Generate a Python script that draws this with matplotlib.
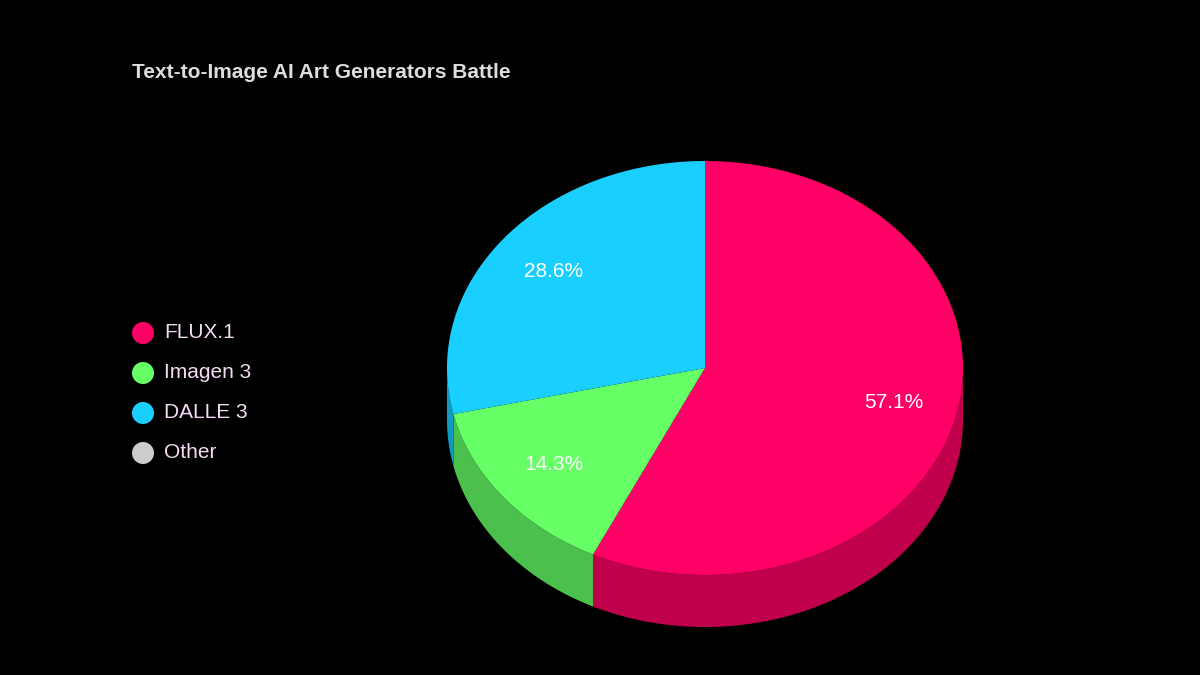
import numpy as np
import matplotlib.pyplot as plt
from matplotlib.patches import Polygon, Circle

labels = ['FLUX.1', 'Imagen 3', 'DALLE 3', 'Other']
values = [4, 1, 2, 0]
top_colors = ['#ff0066', '#66ff66', '#18cfff', '#cccccc']
side_colors = ['#c0004a', '#4cc04c', '#1299c0', '#999999']

# geometry in pixel coordinates (y down)
cx, cy, rx, ry, depth = 705, 368, 258, 207, 52

fig = plt.figure(figsize=(12, 6.75), dpi=100, facecolor='black')
ax = fig.add_axes([0, 0, 1, 1])
ax.set_xlim(0, 1200)
ax.set_ylim(675, 0)
ax.axis('off')
ax.set_facecolor('black')


def pt(theta, dy=0):
    t = np.radians(theta)
    return cx + rx * np.sin(t), cy - ry * np.cos(t) + dy


total = sum(values)
angles = np.cumsum([0] + [v / total * 360 for v in values])

# side walls
for i, v in enumerate(values):
    a0, a1 = angles[i], angles[i + 1]
    lo, hi = max(a0, 90), min(a1, 270)
    if v == 0 or hi <= lo:
        continue
    th = np.linspace(lo, hi, 100)
    upper = [pt(t) for t in th]
    lower = [pt(t, depth) for t in th[::-1]]
    ax.add_patch(Polygon(upper + lower, closed=True, fc=side_colors[i], ec='none'))

# top faces
for i, v in enumerate(values):
    if v == 0:
        continue
    a0, a1 = angles[i], angles[i + 1]
    th = np.linspace(a0, a1, 200)
    poly = [(cx, cy)] + [pt(t) for t in th]
    ax.add_patch(Polygon(poly, closed=True, fc=top_colors[i], ec='none'))
    mid = np.radians((a0 + a1) / 2)
    lx = cx + 0.75 * rx * np.sin(mid)
    ly = cy - 0.75 * ry * np.cos(mid)
    ax.text(lx, ly, f'{v / total * 100:.1f}%', color='white', fontsize=15,
            ha='center', va='center', family='Liberation Sans')

# legend
for i, lab in enumerate(labels):
    y = 333 + 40 * i
    ax.add_patch(Circle((143, y), 11, fc=top_colors[i], ec='none'))
    ax.text(164, y, lab, color='#f4dcf4', fontsize=15, va='center',
            family='Liberation Sans')

ax.text(132, 72, 'Text-to-Image AI Art Generators Battle', color='#dddddd',
        fontsize=15, fontweight='bold', va='center', family='Liberation Sans')

fig.savefig('out.png', dpi=100, facecolor='black')
